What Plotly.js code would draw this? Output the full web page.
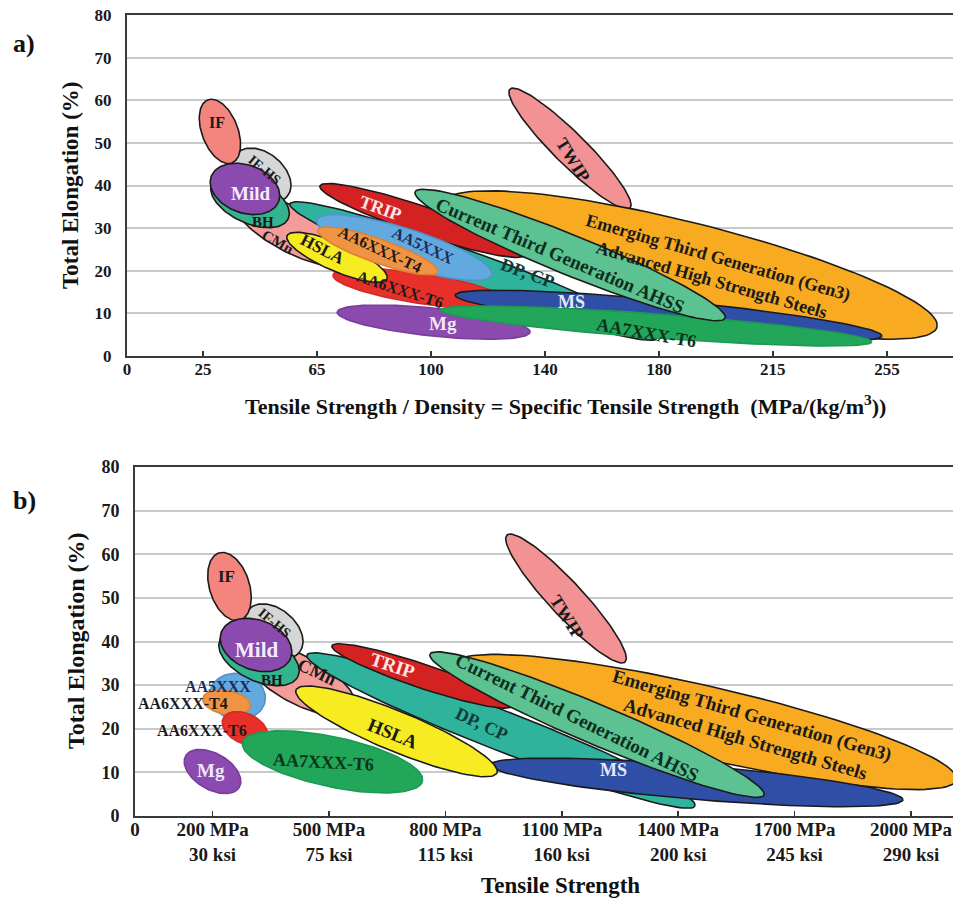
<!DOCTYPE html>
<html>
<head>
<meta charset="utf-8">
<script src="https://cdn.plot.ly/plotly-3.0.1.min.js"></script>
<style>html,body{margin:0;padding:0;background:#fff}</style>
</head>
<body>
<div id="chart" style="width:954px;height:900px"></div>
<script>
// ---------- Panel a: specific tensile strength vs total elongation ----------
const aTickVals = [0, 25.6, 64.1, 102.6, 141.0, 179.5, 217.9, 256.4];
const aTickText = ['0', '25', '65', '100', '140', '180', '215', '255'];

// each family is an ellipse: both ends of its long axis (strength, elongation %)
// and its half-thickness in elongation %. Listed from back to front.
const aNames = ['TWIP', 'Gen3', 'CMn', 'DP, CP', 'TRIP', 'Mg', 'AA6XXX-T6', 'MS', 'AA7XXX-T6',
                'Gen3 current', 'IF-HS', 'IF', 'BH', 'Mild', 'HSLA', 'AA5XXX', 'AA6XXX-T4'];
const aX1   = [129.2, 106.6, 36.3, 55.0, 65.1, 70.9, 69.5, 110.7, 105.6, 97.2, 37.0, 27.3, 28.6, 28.4, 54.0, 64.1, 64.4];
const aY1   = [62.6, 35.9, 36.7, 35.7, 39.9, 10.3, 19.0, 14.3, 10.8, 38.5, 47.4, 60.1, 40.5, 42.1, 28.2, 31.9, 29.6];
const aX2   = [169.7, 273.3, 75.0, 178.8, 134.3, 136.0, 128.2, 254.7, 251.3, 201.8, 54.1, 35.4, 54.4, 51.2, 87.7, 123.1, 104.9];
const aY2   = [34.7, 6.8, 22.4, 4.2, 23.7, 5.6, 12.7, 4.7, 3.3, 8.9, 37.5, 45.3, 32.2, 36.3, 18.1, 19.0, 19.7];
const aHalf = [3.75, 9.85, 5.2, 4.22, 3.28, 3.28, 3.52, 3.52, 2.82, 4.69, 5.16, 4.22, 5.16, 5.63, 3.28, 4.46, 2.82];

// ---------- Panel b: tensile strength vs total elongation ----------
const bTickVals = [0, 200, 500, 800, 1100, 1400, 1700, 2000];
const bTickText = ['0', '200 MPa<br>30 ksi', '500 MPa<br>75 ksi', '800 MPa<br>115 ksi', '1100 MPa<br>160 ksi',
                   '1400 MPa<br>200 ksi', '1700 MPa<br>245 ksi', '2000 MPa<br>290 ksi'];

const bNames = ['TWIP', 'Gen3', 'CMn', 'DP, CP', 'TRIP', 'MS', 'HSLA', 'Gen3 current', 'AA5XXX', 'AA6XXX-T4',
                'AA6XXX-T6', 'AA7XXX-T6', 'Mg', 'IF-HS', 'IF', 'BH', 'Mild'];
const bX1   = [958.8, 821.1, 284, 443.3, 507.7, 915.0, 415.0, 760.3, 193.0, 175.0, 227.3, 277.1, 130.7, 293.0, 216.5, 219.1, 222.2];
const bY1   = [64.4, 34.8, 37.8, 36.9, 39.0, 11.7, 28.9, 37.1, 28.5, 27.0, 22.4, 16.8, 13.8, 47.3, 60.3, 40.4, 42.1];
const bX2   = [1262.9, 2117, 566, 1443.3, 971.6, 1979.4, 933.0, 1621.1, 335.3, 296.6, 339.7, 741.0, 268.8, 423.5, 270.6, 420.1, 401.5];
const bY2   = [35.3, 8.3, 24.5, 2.3, 25.2, 3.7, 9.9, 4.8, 26.3, 25.1, 17.7, 8.0, 6.6, 37.5, 44.9, 32.0, 36.3];
const bHalf = [3.90, 8.25, 5.5, 4.58, 2.75, 3.90, 4.58, 4.58, 5.27, 2.75, 3.44, 5.73, 4.13, 5.04, 4.58, 5.27, 5.73];

// ---------- text and styling ----------
const labelText = {
  'TWIP': 'TWIP',
  'Gen3': 'Emerging Third Generation (Gen3)<br>Advanced High Strength Steels',
  'Gen3 current': 'Current Third Generation AHSS',
  'CMn': 'CMn', 'DP, CP': 'DP, CP', 'TRIP': 'TRIP', 'Mg': 'Mg', 'AA6XXX-T6': 'AA6XXX-T6',
  'MS': 'MS', 'AA7XXX-T6': 'AA7XXX-T6', 'IF-HS': 'IF-HS', 'IF': 'IF', 'BH': 'BH', 'Mild': 'Mild',
  'HSLA': 'HSLA', 'AA5XXX': 'AA5XXX', 'AA6XXX-T4': 'AA6XXX-T4'
};
const fillColor = {
  'TWIP': '#f29294', 'Gen3': '#f8ab20', 'Gen3 current': '#5cc291', 'CMn': '#f39c9a',
  'DP, CP': '#2fb39c', 'TRIP': '#d42222', 'Mg': '#8a4aae', 'AA6XXX-T6': '#e7302a',
  'MS': '#2f4fa6', 'AA7XXX-T6': '#21a65a', 'IF-HS': '#d6d6d6', 'IF': '#f4857e',
  'BH': '#34b38f', 'Mild': '#8a4aae', 'HSLA': '#f7ec22', 'AA5XXX': '#62a9e0', 'AA6XXX-T4': '#f09342'
};
// light alloys are drawn without the dark rim
const edgeColor = {
  'Mg': '#7a3d9e', 'AA6XXX-T6': '#d22a24', 'AA7XXX-T6': '#1d9a52', 'AA5XXX': '#4f95cc', 'AA6XXX-T4': '#dd8236'
};
const labelColor = {
  'Mild': '#f4ecf8', 'TRIP': '#ffe6e6', 'Mg': '#efe6f6', 'MS': '#e4e8f8',
  'AA5XXX': '#1c2b5c', 'DP, CP': '#0e3b36', 'Gen3 current': '#0c2e1f', 'AA7XXX-T6': '#0b3318'
};
const SERIF = 'Liberation Serif, Times New Roman, serif';

// label placement per panel: [strength, elongation, angle, font size]
const aLabelSpot = {
  'IF': [30.4, 54.7, 0, 16], 'IF-HS': [46.6, 43.6, 40, 14], 'Mild': [41.5, 38.2, 0, 19],
  'BH': [45.9, 31.4, 0, 15], 'CMn': [50.9, 26.7, 30, 15], 'TRIP': [85.4, 34.7, 20, 18],
  'AA5XXX': [99.9, 26.0, 25, 16], 'AA6XXX-T4': [85.4, 24.9, 25, 16], 'HSLA': [66.1, 24.9, 27, 17],
  'AA6XXX-T6': [92.1, 15.5, 18, 16], 'Mg': [106.6, 7.7, 0, 19], 'DP, CP': [135.0, 19.5, 20, 18],
  'MS': [150.1, 12.7, 0, 18], 'AA7XXX-T6': [175.4, 5.4, 10, 18], 'Gen3 current': [146.1, 23.5, 23, 19],
  'TWIP': [150.5, 46.0, 58, 18], 'Gen3': [198.4, 20.6, 16, 18]
};
const bLabelSpot = {
  'IF': [237, 54.8, 0, 17], 'IF-HS': [361, 44.2, 40, 14], 'Mild': [314, 38.1, 0, 21],
  'BH': [353, 31.2, 0, 15], 'CMn': [469, 33.0, 25, 18], 'TRIP': [665, 34.6, 18, 19],
  'DP, CP': [894, 21.1, 25, 18], 'Gen3 current': [1139, 22.5, 26, 19], 'HSLA': [665, 19.0, 22, 19],
  'AA5XXX': [214, 29.6, 0, 16], 'AA6XXX-T4': [124, 25.9, 0, 16], 'AA6XXX-T6': [173, 19.5, 0, 16],
  'AA7XXX-T6': [485, 12.4, 3, 18], 'Mg': [196, 10.5, 0, 19], 'MS': [1232, 10.5, 0, 18],
  'TWIP': [1113, 45.6, 58, 18], 'Gen3': [1580, 20.4, 16, 19]
};

// ---------- page geometry (pixels) ----------
const W = 954, H = 900;
const frameA = {left: 127, right: 953, top: 15, bottom: 356};
const frameB = {left: 135, right: 953, top: 467, bottom: 816};
const aXMax = (frameA.right - frameA.left) / 2.964;
const bXMax = (frameB.right - frameB.left) / 0.388;
const Y_MAX = 80;

function scales(frame, xMax) {
  return {sx: (frame.right - frame.left) / xMax, sy: (frame.bottom - frame.top) / Y_MAX};
}

// outline of an ellipse built in screen-proportional space so it keeps its shape
function ellipse(x1, y1, x2, y2, half, sc) {
  const p1x = x1 * sc.sx, p1y = y1 * sc.sy, p2x = x2 * sc.sx, p2y = y2 * sc.sy;
  const cx = (p1x + p2x) / 2, cy = (p1y + p2y) / 2;
  const a = Math.hypot(p2x - p1x, p2y - p1y) / 2;
  const th = Math.atan2(p2y - p1y, p2x - p1x);
  const b = half * sc.sy;
  const xs = [], ys = [];
  const n = 120;
  for (let i = 0; i <= n; i++) {
    const t = 2 * Math.PI * i / n;
    const u = a * Math.cos(t), v = b * Math.sin(t);
    xs.push((cx + u * Math.cos(th) - v * Math.sin(th)) / sc.sx);
    ys.push((cy + u * Math.sin(th) + v * Math.cos(th)) / sc.sy);
  }
  return {xs, ys};
}

function panelTraces(names, X1, Y1, X2, Y2, HALF, sc, xa, ya) {
  return names.map((nm, i) => {
    const e = ellipse(X1[i], Y1[i], X2[i], Y2[i], HALF[i], sc);
    return {
      type: 'scatter', mode: 'lines', x: e.xs, y: e.ys, xaxis: xa, yaxis: ya,
      fill: 'toself', fillcolor: fillColor[nm],
      line: {color: edgeColor[nm] || '#1b1b1b', width: 1.6},
      hoverinfo: 'skip', showlegend: false, name: labelText[nm]
    };
  });
}

function panelLabels(spots, xa, ya) {
  return Object.keys(spots).map(nm => {
    const s = spots[nm];
    return {
      xref: xa, yref: ya, x: s[0], y: s[1], text: labelText[nm], textangle: s[2],
      showarrow: false, align: 'center',
      font: {family: SERIF, size: s[3], color: labelColor[nm] || '#1a1a1a', weight: 'bold'}
    };
  });
}

const scA = scales(frameA, aXMax);
const scB = scales(frameB, bXMax);

const traces = [
  ...panelTraces(aNames, aX1, aY1, aX2, aY2, aHalf, scA, 'x', 'y'),
  ...panelTraces(bNames, bX1, bY1, bX2, bY2, bHalf, scB, 'x2', 'y2')
];

function paperX(px) { return px / W; }
function paperY(py) { return 1 - py / H; }

const tickFont = (size) => ({family: SERIF, size: size, color: '#1a1a1a', weight: 'bold'});

function xAxis(frame, xMax, vals, text, anchor, fs, standoff) {
  return {
    domain: [paperX(frame.left), paperX(frame.right)], range: [0, xMax], anchor: anchor,
    tickmode: 'array', tickvals: vals, ticktext: text, tickfont: tickFont(fs),
    ticks: 'inside', ticklen: 5, tickwidth: 1.5, tickcolor: '#333',
    ticklabelstandoff: standoff,
    showline: true, linecolor: '#3a3a3a', linewidth: 2, mirror: true,
    showgrid: false, zeroline: false, fixedrange: true
  };
}
function yAxis(frame, anchor, fs) {
  return {
    domain: [paperY(frame.bottom), paperY(frame.top)], range: [0, Y_MAX], anchor: anchor,
    tickmode: 'linear', tick0: 0, dtick: 10, tickfont: tickFont(fs), ticks: '',
    ticklabelstandoff: 10,
    showline: true, linecolor: '#3a3a3a', linewidth: 2,
    showgrid: true, gridcolor: '#c9c9c9', gridwidth: 2, zeroline: false, fixedrange: true
  };
}

const textNote = (px, py, text, size, angle) => ({
  xref: 'paper', yref: 'paper', x: paperX(px), y: paperY(py), xanchor: 'center', yanchor: 'middle',
  text: text, textangle: angle || 0, showarrow: false,
  font: {family: SERIF, size: size, color: '#111', weight: 'bold'}
});

const layout = {
  width: W, height: H,
  margin: {l: 0, r: 0, t: 0, b: 0},
  paper_bgcolor: '#ffffff', plot_bgcolor: '#ffffff',
  showlegend: false,
  xaxis: xAxis(frameA, aXMax, aTickVals, aTickText, 'y', 17, -3),
  yaxis: yAxis(frameA, 'x', 17),
  xaxis2: xAxis(frameB, bXMax, bTickVals, bTickText, 'y2', 19, -5),
  yaxis2: yAxis(frameB, 'x2', 18),
  annotations: [
    ...panelLabels(aLabelSpot, 'x', 'y'),
    ...panelLabels(bLabelSpot, 'x2', 'y2'),
    textNote(24, 43, 'a)', 26),
    textNote(24, 500, 'b)', 26),
    textNote(70, 186, 'Total Elongation (%)', 23, -90),
    textNote(76, 641, 'Total Elongation (%)', 24, -90),
    textNote(565, 405, 'Tensile Strength / Density = Specific Tensile Strength&nbsp;&nbsp;(MPa/(kg/m<sup>3</sup>))', 22),
    textNote(560, 885, 'Tensile Strength', 23)
  ]
};

Plotly.newPlot('chart', traces, layout, {staticPlot: true, displayModeBar: false});
</script>
</body>
</html>
